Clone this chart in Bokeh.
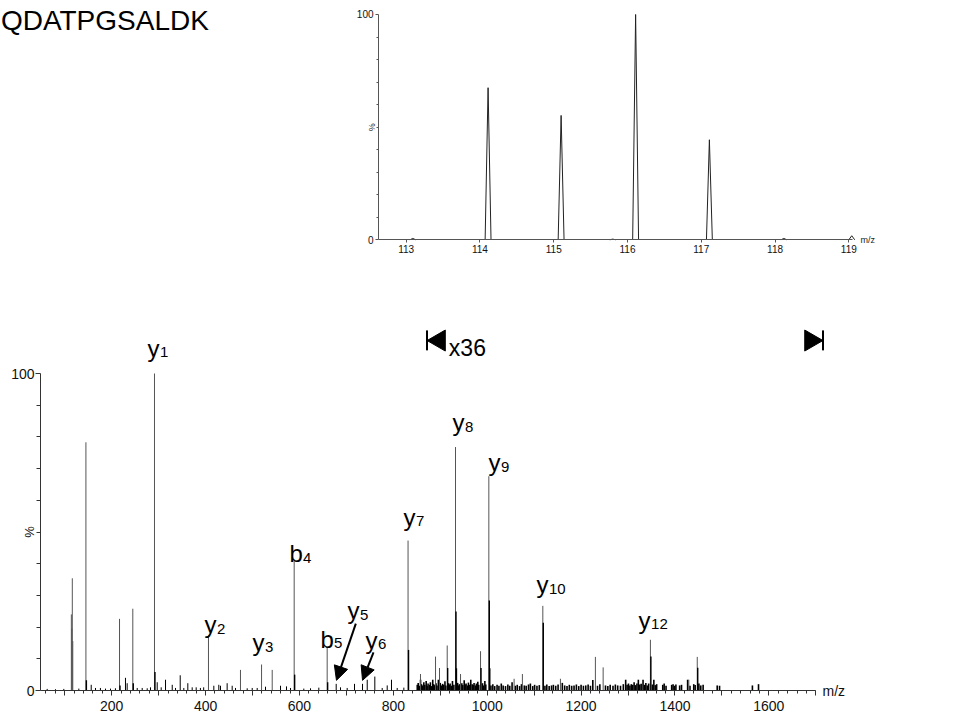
import math
from bokeh.plotting import figure
from bokeh.models import (Range1d, FixedTicker, Label, Arrow, NormalHead,
                          ColumnDataSource, LinearAxis)
from bokeh.embed import file_html
from bokeh.resources import INLINE
from bokeh.core.properties import value

FONT = "Liberation Sans"

# ---------------- data ----------------
title_text = "QDATPGSALDK"

# inset: iTRAQ reporter region (profile peaks)
rep_mz = [113.09, 114.11, 115.10, 115.80, 116.11, 117.11, 118.12, 119.04]
rep_int = [0.6, 67.5, 55.2, 0.3, 100.0, 44.4, 0.6, 1.8]
inset_xticks = [113, 114, 115, 116, 117, 118, 119]

# main spectrum: major peaks
peak_mz = [114.1, 115.1, 116.1, 117.1, 145.1,
           216.7, 245.0, 291.2, 406.2, 474.4,
           519.3, 542.0, 588.8, 659.1, 831.4,
           857.9, 889.9, 898.4, 914.8, 932.5,
           943.2, 985.8, 1003.5, 1057.3, 1075.0,
           1118.5, 1156.0, 1230.5, 1247.0, 1347.7,
           1429.5, 1447.5]
peak_pct = [24.0, 19.5, 35.4, 15.6, 78.3,
            22.6, 25.8, 100.0, 17.4, 6.5,
            8.2, 6.5, 41.3, 13.7, 47.3,
            5.2, 10.7, 7.1, 14.2, 76.8,
            5.2, 12.4, 67.6, 3.7, 5.2,
            26.7, 3.7, 10.6, 7.3, 16.0,
            3.4, 10.6]

# isotope / overlapping peaks (drawn darker)
iso_mz = [146.1, 217.7, 246.0, 292.2, 589.8, 660.1, 832.4, 915.8,
          933.5, 934.5, 986.8, 1004.5, 1005.5, 1119.5, 1348.7, 1448.5]
iso_pct = [3.2, 1.6, 2.3, 5.8, 5.0, 2.6, 12.8, 7.1,
           24.9, 7.0, 7.1, 28.4, 7.0, 21.4, 10.7, 7.2]

# low-level peaks below m/z 850
noise_mz = [62.6, 80.3, 98, 130, 156.4,
            165.5, 176, 186.8, 197.5, 208,
            229.4, 233, 254.4, 265, 275.7,
            282.7, 297, 305.5, 314.7, 329,
            336, 346, 353.7, 362.2, 371.5,
            380, 389, 396, 417.6, 428.2,
            431.8, 446, 456.7, 463.8, 488.7,
            499.4, 510, 527.7, 559.7, 572.4,
            581, 609.3, 623.6, 641.3, 678.3,
            687.5, 701.7, 717.3, 734.4, 744.4,
            760.6, 776.3, 787, 796.1, 808.3,
            822.4]
noise_pct = [0.5, 0.4, 0.5, 0.6, 1.8,
             0.8, 0.8, 0.6, 0.6, 0.7,
             4.0, 2.3, 0.8, 0.8, 0.7,
             1.0, 2.6, 1.0, 3.4, 1.8,
             0.8, 4.8, 0.8, 2.3, 1.0,
             1.0, 0.8, 1.0, 1.5, 1.8,
             1.5, 2.3, 1.5, 0.8, 0.7,
             0.8, 0.8, 1.2, 1.5, 1.3,
             0.8, 0.6, 0.7, 0.9, 2.1,
             1.0, 0.8, 2.1, 2.1, 3.4,
             4.4, 0.8, 1.6, 3.4, 0.8,
             0.9]

# magnified (x36) region: dense low-level peaks
comb_mz = [851, 853, 856, 858, 860, 862, 865, 867, 870, 872,
           874, 877, 879, 881, 884, 886, 888, 891, 893, 896,
           898, 900, 903, 905, 907, 910, 912, 917, 919, 921,
           924, 926, 929, 937, 939, 941, 946, 948, 951, 953,
           955, 958, 960, 963, 965, 968, 970, 972, 975, 977,
           980, 982, 990, 992, 995, 997,
           1008, 1012, 1016, 1021, 1025, 1030, 1034, 1039, 1044, 1048,
           1053, 1060, 1064, 1069, 1073, 1079, 1083, 1088, 1092, 1097,
           1101, 1106, 1111, 1123, 1127, 1132, 1137, 1141, 1146, 1151,
           1160, 1165, 1170, 1175, 1180, 1185, 1190, 1195, 1200, 1205,
           1210, 1215, 1220, 1225, 1235, 1240, 1252, 1257, 1262, 1268,
           1273, 1278, 1284, 1290, 1295, 1298, 1301, 1304, 1307, 1310,
           1313, 1316, 1319, 1322, 1325, 1328, 1332, 1335, 1338, 1341,
           1344, 1352, 1355, 1358, 1361, 1374, 1377, 1381, 1393, 1396,
           1399, 1402, 1410, 1414, 1427, 1432, 1440, 1443, 1451, 1455,
           1460, 1490, 1495, 1565, 1578]
comb_pct = [1.8, 2.4, 1.5, 3.4, 2.0, 1.6, 2.6, 1.8, 3.0, 1.5,
            2.2, 1.8, 2.6, 1.4, 3.4, 2.0, 1.7, 2.3, 1.6, 3.4,
            1.9, 2.4, 1.6, 2.1, 1.8, 2.9, 1.6, 2.3, 1.8, 2.2,
            1.5, 3.0, 1.8, 2.4, 1.6, 2.0, 2.3, 1.7, 3.2, 1.9,
            2.2, 1.6, 2.5, 1.8, 3.4, 2.0, 1.7, 2.4, 1.6, 2.2,
            2.8, 1.8, 2.3, 1.6, 3.0, 1.9,
            1.6, 2.0, 1.4, 1.8, 1.5, 2.2, 1.6, 1.4, 1.9, 1.5,
            2.6, 1.5, 1.8, 1.4, 2.0, 1.6, 1.5, 1.9, 2.2, 1.4,
            1.8, 1.5, 1.7, 1.5, 1.9, 1.4, 1.6, 1.8, 1.5, 1.9,
            2.4, 1.6, 1.4, 1.8, 1.5, 1.6, 1.9, 1.4, 1.8, 1.5,
            1.6, 1.9, 1.5, 3.3, 1.5, 2.0, 1.6, 1.4, 1.8, 1.5,
            1.9, 1.6, 1.5, 2.0, 3.4, 1.8, 2.2, 1.6, 2.0, 1.8,
            2.6, 1.7, 2.2, 3.4, 1.9, 2.1, 3.4, 1.8, 2.4, 1.6,
            2.2, 1.9, 3.4, 1.7, 2.0, 1.8, 2.2, 1.5, 1.8, 2.0,
            1.5, 1.9, 1.6, 1.8, 3.4, 1.5, 2.0, 1.7, 2.2, 1.6,
            1.8, 1.6, 1.5, 1.6, 2.0]

# fragment ion annotations
ion_letter = ["y", "y", "y", "b", "b", "y", "y", "y", "y", "y", "y", "y"]
ion_sub = ["1", "2", "3", "4", "5", "5", "6", "7", "8", "9", "10", "12"]
ion_x = [276.3, 397.7, 499.9, 578.8, 644.9, 702.4, 740.7, 821.6, 926.1, 1002.8, 1105.0, 1322.4]
ion_y = [107.9, 20.8, 15.1, 43.2, 16.1, 25.2, 15.8, 54.6, 84.5, 71.9, 33.4, 22.1]

zoom_factor = "x36"
zoom_start = 871.8
zoom_end = 1715.4

main_xticks = list(range(100, 1701, 100))
main_xminor = list(range(60, 1701, 20))
main_xlabels = {t: (str(t) if t % 200 == 0 else "") for t in main_xticks}

# ---------------- single canvas, axes at fixed locations ----------------
MAIN_X0, MAIN_X1 = 48.36, 1699.4
INS_X0, INS_X1 = 112.625, 119.05

p = figure(width=960, height=717, output_backend="svg", toolbar_location=None,
           x_range=Range1d(-36.856, 2008.31), y_range=Range1d(-8.517, 217.666),
           min_border_left=0, min_border_right=0, min_border_top=0, min_border_bottom=0)
p.outline_line_color = None
p.grid.visible = False
p.extra_x_ranges = {"ix": Range1d(107.5005, 120.514)}
p.extra_y_ranges = {"iy": Range1d(-212.03, 106.21)}


def style_axis(ax, size, color):
    ax.axis_line_color = color
    ax.major_tick_line_color = color
    ax.minor_tick_line_color = color
    ax.major_label_text_font = FONT
    ax.major_label_text_font_size = size
    ax.major_label_text_color = "#111111"
    ax.major_tick_in = 0
    ax.minor_tick_in = 0


# main axes
xax = p.xaxis[0]
yax = p.yaxis[0]
style_axis(xax, "14px", "#333333")
style_axis(yax, "14px", "#333333")
xax.fixed_location = 0
xax.bounds = (MAIN_X0, MAIN_X1)
xax.ticker = FixedTicker(ticks=main_xticks, minor_ticks=main_xminor)
xax.major_label_overrides = main_xlabels
xax.major_tick_out = 5
xax.minor_tick_out = 3
xax.major_label_standoff = 5
yax.fixed_location = MAIN_X0
yax.bounds = (0, 100)
yax.ticker = FixedTicker(ticks=[0, 100], minor_ticks=list(range(10, 100, 10)))
yax.major_tick_out = 5
yax.minor_tick_out = 4
yax.major_label_standoff = 1

# inset axes
ixax = LinearAxis(x_range_name="ix", y_range_name="iy", fixed_location=0,
                  bounds=(INS_X0, INS_X1),
                  ticker=FixedTicker(ticks=inset_xticks, minor_ticks=[]))
iyax = LinearAxis(x_range_name="ix", y_range_name="iy", fixed_location=INS_X0,
                  bounds=(0, 100),
                  ticker=FixedTicker(ticks=[0, 100], minor_ticks=list(range(10, 100, 10))))
style_axis(ixax, "10px", "#555555")
style_axis(iyax, "10px", "#555555")
ixax.major_tick_out = 3
ixax.major_label_standoff = 2
iyax.major_tick_out = 3
iyax.minor_tick_out = 2
iyax.major_label_standoff = 2
p.add_layout(ixax, "below")
p.add_layout(iyax, "left")

# inset profile peaks
hw = 0.04
xs = [[m - hw, m, m + hw] for m in rep_mz]
ys = [[0, h, 0] for h in rep_int]
p.multi_line(xs=xs, ys=ys, line_color="#222222", line_width=1,
             x_range_name="ix", y_range_name="iy")

p.add_layout(Label(x=119.16, y=0, x_range_name="ix", y_range_name="iy", text="m/z",
                   text_font=FONT, text_font_size="9px", text_baseline="middle",
                   text_align="left", text_color="#222222"))
p.add_layout(Label(x=112.543, y=50, x_range_name="ix", y_range_name="iy", text="%",
                   text_font=FONT, text_font_size="9px", text_baseline="middle",
                   text_align="center", angle=math.pi / 2, text_color="#222222"))

# title (sequence)
p.add_layout(Label(x=-36.0, y=211.36, text=title_text, text_font=FONT,
                   text_font_size="28px", text_baseline="alphabetic",
                   text_align="left", text_color="black"))

# main spectrum sticks
p.segment(x0="mz", y0=0, x1="mz", y1="pct",
          source=ColumnDataSource(dict(mz=comb_mz, pct=comb_pct)),
          line_color="black", line_width=1.6)
p.segment(x0="mz", y0=0, x1="mz", y1="pct",
          source=ColumnDataSource(dict(mz=noise_mz, pct=noise_pct)),
          line_color="black", line_width=1)
p.segment(x0="mz", y0=0, x1="mz", y1="pct",
          source=ColumnDataSource(dict(mz=peak_mz, pct=peak_pct)),
          line_color="#555555", line_width=1)
p.segment(x0="mz", y0=0, x1="mz", y1="pct",
          source=ColumnDataSource(dict(mz=iso_mz, pct=iso_pct)),
          line_color="black", line_width=1.4)

# ion labels
sub_dx = [12.5 if l == "y" else 13.5 for l in ion_letter]
ions = ColumnDataSource(dict(x=ion_x, y=ion_y, letter=ion_letter, sub=ion_sub, dx=sub_dx))
p.text(x="x", y="y", text="letter", source=ions, text_font=value(FONT),
       text_font_size="24px", text_align="left", text_baseline="alphabetic",
       text_color="black")
p.text(x="x", y="y", text="sub", source=ions, x_offset="dx", y_offset=4,
       text_font=value(FONT), text_font_size="15px", text_align="left",
       text_baseline="alphabetic", text_color="black")

# arrows for y5 and y6
for (xs_, ys_, xe_, ye_) in [(720.1, 21.1, 678.9, 3.2), (757.8, 12.0, 734.4, 3.2)]:
    p.add_layout(Arrow(end=NormalHead(size=14, fill_color="black", line_color="black"),
                       x_start=xs_, y_start=ys_, x_end=xe_, y_end=ye_,
                       line_width=2, line_color="black"))

# magnification markers
p.segment(x0=[zoom_start, zoom_end], y0=[107.3, 107.3], x1=[zoom_start, zoom_end],
          y1=[113.6, 113.6], line_color="black", line_width=2)
p.scatter(x=[zoom_start + 26.0], y=[110.4], marker="triangle", size=21,
          angle=math.pi / 2, color="black")
p.scatter(x=[zoom_end - 26.0], y=[110.4], marker="triangle", size=21,
          angle=-math.pi / 2, color="black")
p.text(x=[zoom_start + 46.5], y=[108.2], text=[zoom_factor], text_font=value(FONT),
       text_font_size="23px", text_align="left", text_baseline="alphabetic",
       text_color="black")

p.add_layout(Label(x=1714.3, y=0, text="m/z", text_font=FONT, text_font_size="14px",
                   text_baseline="middle", text_align="left", text_color="#111111"))
p.add_layout(Label(x=24.9, y=50, text="%", text_font=FONT, text_font_size="13px",
                   text_baseline="middle", text_align="center", angle=math.pi / 2,
                   text_color="#111111"))

open("out.html", "w").write(file_html(p, INLINE))
